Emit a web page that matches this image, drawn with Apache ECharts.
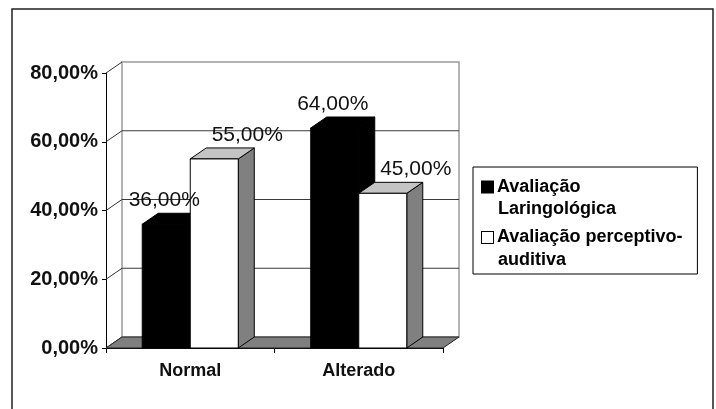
<!DOCTYPE html>
<html>
<head>
<meta charset="utf-8">
<script src="https://cdn.jsdelivr.net/npm/echarts@6/dist/echarts.min.js"></script>
<style>
  html, body { margin: 0; padding: 0; background: #fff; }
  #chart { width: 716px; height: 409px; }
</style>
</head>
<body>
<div id="chart"></div>
<script>
// Categories, series and axis ticks
const categories = ['Normal', 'Alterado'];
const seriesNames = ['Avaliação\nLaringológica', 'Avaliação perceptivo-\nauditiva'];
const laringologica = [36, 64];
const perceptivoAuditiva = [55, 45];
const yTicks = [0, 20, 40, 60, 80];

// Oblique projection used for the 3D look
const DX = 16, DY = -11;
const BAR_FRACTION = 0.285;          // width of one bar as a share of the category band
const FONT = '"Liberation Sans", Arial, sans-serif';

function fmtPct(v) {
  return Number(v).toFixed(2).replace('.', ',') + '%';
}

const chart = echarts.init(document.getElementById('chart'));

// Back wall, side-wall edges, gridlines and floor
function renderWalls(params, api) {
  const band = api.size([1, 0])[0];
  const left = api.coord([0, 0])[0] - band / 2;
  const right = api.coord([categories.length - 1, 0])[0] + band / 2;
  const yMin = yTicks[0], yMax = yTicks[yTicks.length - 1];
  const yBase = api.coord([0, yMin])[1];
  const yTop = api.coord([0, yMax])[1];
  const children = [];
  children.push({
    type: 'rect',
    shape: { x: left + DX, y: yTop + DY, width: right - left, height: yBase - yTop },
    style: { fill: '#fff', stroke: '#9a9a9a', lineWidth: 1.5 }
  });
  yTicks.forEach(function (t) {
    const y = api.coord([0, t])[1];
    children.push({
      type: 'line',
      shape: { x1: left, y1: y, x2: left + DX, y2: y + DY },
      style: { stroke: '#333', lineWidth: 1 }
    });
    if (t !== yMin && t !== yMax) {
      children.push({
        type: 'line',
        shape: { x1: left + DX, y1: y + DY, x2: right + DX, y2: y + DY },
        style: { stroke: '#3a3a3a', lineWidth: 1.2 }
      });
    }
  });
  children.push({
    type: 'polygon',
    shape: { points: [[left, yBase], [right, yBase], [right + DX, yBase + DY], [left + DX, yBase + DY]] },
    style: { fill: '#7f7f7f', stroke: '#222', lineWidth: 1 }
  });
  return { type: 'group', children: children };
}

// One prism per value: side, top and front faces plus the value label
function makeBarRenderer(slot, colors, labelDx) {
  return function (params, api) {
    const cat = api.value(0);
    const v = api.value(1);
    const base = api.coord([cat, 0]);
    const top = api.coord([cat, v]);
    const band = api.size([1, 0])[0];
    const bw = band * BAR_FRACTION;
    const x0 = base[0] + (slot - 1) * bw;
    const x1 = x0 + bw;
    const ty = top[1], by = base[1];
    const stroke = { stroke: '#000', lineWidth: 1 };
    return {
      type: 'group',
      children: [
        {
          type: 'polygon',
          shape: { points: [[x1, ty], [x1 + DX, ty + DY], [x1 + DX, by + DY], [x1, by]] },
          style: Object.assign({ fill: colors.side }, stroke)
        },
        {
          type: 'polygon',
          shape: { points: [[x0, ty], [x0 + DX, ty + DY], [x1 + DX, ty + DY], [x1, ty]] },
          style: Object.assign({ fill: colors.top }, stroke)
        },
        {
          type: 'rect',
          shape: { x: x0, y: ty, width: bw, height: by - ty },
          style: Object.assign({ fill: colors.front }, stroke)
        },
        {
          type: 'text',
          z2: 100,
          style: {
            text: fmtPct(v),
            x: x0 + bw / 2 + labelDx,
            y: ty - 24,
            fill: '#111',
            fontFamily: FONT,
            fontSize: 21,
            align: 'center',
            verticalAlign: 'middle'
          }
        }
      ]
    };
  };
}

const legendRich = {
  sq0: { width: 11, height: 11, backgroundColor: '#000', borderColor: '#000', borderWidth: 1 },
  sq1: { width: 11, height: 11, backgroundColor: '#fff', borderColor: '#000', borderWidth: 1 },
  g: { width: 4 },
  ind: { width: 16 },
  t: { fontFamily: FONT, fontSize: 18, fontWeight: 'bold', color: '#000', lineHeight: 22.5 }
};

chart.setOption({
  animation: false,
  backgroundColor: '#fff',
  grid: {
    left: 106, top: 73, width: 337, height: 275,
    containLabel: false, outerBoundsMode: 'none'
  },
  xAxis: {
    type: 'category',
    data: categories,
    axisLine: { show: true, lineStyle: { color: '#000', width: 1 } },
    axisTick: { show: true, length: 5, lineStyle: { color: '#000' } },
    axisLabel: { fontFamily: FONT, fontSize: 18, fontWeight: 'bold', color: '#111', margin: 14 },
    splitLine: { show: false }
  },
  yAxis: {
    type: 'value',
    min: yTicks[0],
    max: yTicks[yTicks.length - 1],
    interval: yTicks[1] - yTicks[0],
    axisLine: { show: true, lineStyle: { color: '#000', width: 1 } },
    axisTick: { show: true, length: 4, lineStyle: { color: '#000' } },
    axisLabel: { formatter: fmtPct, fontFamily: FONT, fontSize: 20, fontWeight: 'bold', color: '#111', margin: 8 },
    splitLine: { show: false }
  },
  legend: {
    orient: 'vertical',
    left: 473,
    top: 167,
    icon: 'none',
    itemWidth: 0,
    itemHeight: 14,
    itemGap: 10,
    padding: [11, 15, 5, 4],
    borderColor: '#000',
    borderWidth: 1,
    selectedMode: false,
    data: seriesNames,
    formatter: function (name) {
      const k = seriesNames.indexOf(name);
      const lines = name.split('\n');
      return '{sq' + k + '|}{g|}{t|' + lines[0] + '}\n{ind|}{t|' + lines[1] + '}';
    },
    textStyle: { color: '#000', rich: legendRich }
  },
  graphic: [{
    type: 'rect',
    silent: true,
    shape: { x: 12, y: 9, width: 701, height: 440 },
    style: { fill: 'none', stroke: '#222', lineWidth: 1.5 }
  }],
  series: [
    {
      name: 'walls',
      type: 'custom',
      z: 1,
      silent: true,
      renderItem: renderWalls,
      data: [[0, 0]]
    },
    {
      name: seriesNames[0],
      type: 'custom',
      z: 2,
      renderItem: makeBarRenderer(0, { front: '#000', top: '#000', side: '#000' }, -2),
      itemStyle: { color: '#000' },
      data: laringologica.map(function (v, i) { return [i, v]; })
    },
    {
      name: seriesNames[1],
      type: 'custom',
      z: 2,
      renderItem: makeBarRenderer(1, { front: '#fff', top: '#c4c4c4', side: '#808080' }, 33),
      itemStyle: { color: '#fff' },
      data: perceptivoAuditiva.map(function (v, i) { return [i, v]; })
    }
  ]
});
</script>
</body>
</html>
